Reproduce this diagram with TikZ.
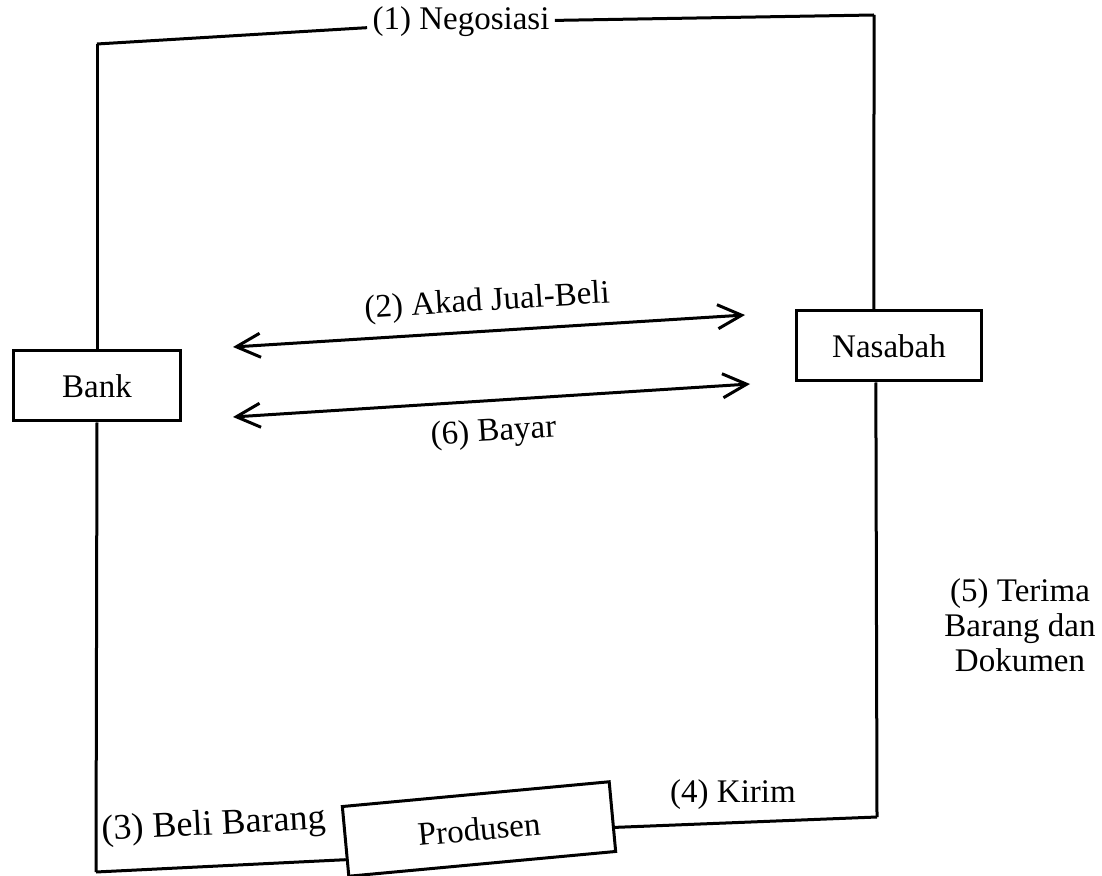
\documentclass[tikz,border=0pt]{standalone}
\usepackage{fontspec}
\setmainfont{Liberation Serif}
\usetikzlibrary{arrows.meta,calc}
\begin{document}
\begin{tikzpicture}[x=0.5pt,y=-0.5pt,
  line width=1.5pt,
  every node/.style={font=\fontsize{16.5}{20}\selectfont},
  party/.style={draw,rectangle,inner sep=0pt,minimum height=35pt},
  tag/.style={inner sep=2pt},
  flow/.style={{Straight Barb[length=12pt,width=12pt]}-{Straight Barb[length=12pt,width=12pt]}},
]
\useasboundingbox (0,0) rectangle (1102,876);

% parties
\node[party,minimum width=83.5pt] (bank) at (97,386) {Bank};
\node[party,minimum width=92.5pt] (nas) at (889,346) {Nasabah};
\node[party,minimum width=134pt,rotate=5.3] (prod) at (479,829) {Produsen};

% corners of the outer loop
\coordinate (tl) at (97,44);
\coordinate (tr) at (874,15);
\coordinate (br) at (877,817);
\coordinate (bl) at (96,872);

% step labels
\node[tag] (neg) at (461,22) {(1) Negosiasi};
\node[tag,rotate=3,font=\fontsize{18}{20}\selectfont] (buy) at (214,826) {(3) Beli Barang};
\node[tag] (send) at (733,795) {(4) Kirim};
\node[tag,align=center,font=\fontsize{16.5}{17.5}\selectfont] (recv) at (1020,625) {(5) Terima\\Barang dan\\Dokumen};

% outer loop: negotiation, purchase, delivery
\draw (tl) -- (neg);
\draw (neg) -- (tr);
\draw (tr) -- ($(nas.north west)!0.42!(nas.north east)$);
\draw ($(nas.south west)!0.43!(nas.south east)$) -- (br);
\draw (br) -- ($(prod.south east)!0.35!(prod.north east)$);
\draw ($(prod.south west)!0.25!(prod.north west)$) -- (bl);
\draw (bl) -- (bank.south);
\draw (bank.north) -- (tl);

% contract and payment between bank and customer
\coordinate (a2l) at (233,347);
\coordinate (a2r) at (745,315);
\coordinate (a6l) at (233,417);
\coordinate (a6r) at (750,384);
\draw[flow] (a2l) -- node[sloped,above=4pt,inner sep=2pt] {(2) Akad Jual-Beli} (a2r);
\draw[flow] (a6l) -- node[sloped,below=6pt,inner sep=2pt] {(6) Bayar} (a6r);
\end{tikzpicture}
\end{document}
